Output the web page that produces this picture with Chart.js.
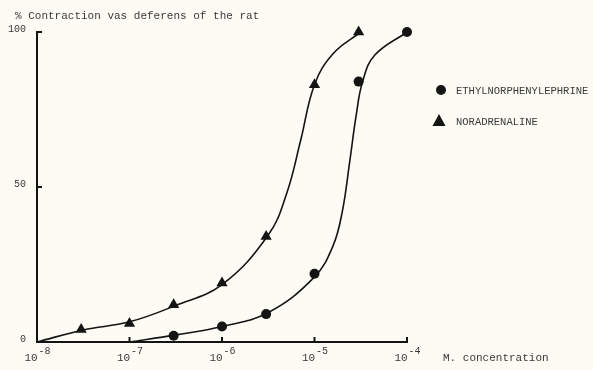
<!DOCTYPE html>
<html>
<head>
<meta charset="utf-8">
<script src="https://cdn.jsdelivr.net/npm/chart.js@4/dist/chart.umd.min.js"></script>
<style>
  html, body { margin: 0; padding: 0; background: #fcfbf4; }
  #wrap { width: 593px; height: 370px; position: relative; }
</style>
</head>
<body>
<div id="wrap"><canvas id="c" width="593" height="370"></canvas></div>
<script>
const noraConc   = [3e-8, 1e-7, 3e-7, 1e-6, 3e-6, 1e-5, 3e-5];
const noraValues = [4, 6, 12, 19, 34, 83, 100];

const ethylConc   = [3e-7, 1e-6, 3e-6, 1e-5, 3e-5, 1e-4];
const ethylValues = [2, 5, 9, 22, 84, 100];

// ---- fitted curves (log10 of concentration, % contraction) ----
const noraCurveLogX = [-8.0, -7.5, -7.0, -6.5, -6.0, -5.5, -5.3, -5.15, -5.0, -4.8, -4.5];
const noraCurveY    = [0, 3.9, 6.5, 11.8, 18.5, 34.5, 48, 65, 83, 93, 100];

const ethylCurveLogX = [-7.0, -6.5, -6.0, -5.5, -5.0, -4.8, -4.7, -4.62, -4.55, -4.48, -4.35, -4.0];
const ethylCurveY    = [0, 2.3, 5, 9.5, 21, 31, 42, 58, 73, 84, 92.5, 100];

const xTicks = [1e-8, 1e-7, 1e-6, 1e-5, 1e-4];
const xTickBase = '10';
const xTickExps = ['-8', '-7', '-6', '-5', '-4'];
const yTicks = [0, 50, 100];

const seriesNames = ['ETHYLNORPHENYLEPHRINE', 'NORADRENALINE'];
const yTitle = '% Contraction vas deferens of the rat';
const xTitle = 'M. concentration';

const INK = '#141414';
const TXT = '#3a3a3a';
const MONO = '"Liberation Mono", "DejaVu Sans Mono", monospace';

function pts(xs, ys) { return xs.map((x, i) => ({ x: x, y: ys[i] })); }
function logPts(es, ys) { return es.map((e, i) => ({ x: Math.pow(10, e), y: ys[i] })); }

const annotations = {
  id: 'annotations',
  afterDraw(chart) {
    const ctx = chart.ctx;
    const xs = chart.scales.x, ys = chart.scales.y;
    ctx.save();
    // inner tick marks on x axis
    ctx.strokeStyle = INK; ctx.lineWidth = 2;
    xTicks.forEach(v => {
      const px = xs.getPixelForValue(v);
      ctx.beginPath(); ctx.moveTo(px, ys.bottom); ctx.lineTo(px, ys.bottom - 5); ctx.stroke();
    });
    // inner tick marks on y axis
    yTicks.forEach(v => {
      if (v === 0) return;
      const py = ys.getPixelForValue(v);
      ctx.beginPath(); ctx.moveTo(xs.left, py); ctx.lineTo(xs.left + 5, py); ctx.stroke();
    });
    // x tick labels with superscript exponents
    ctx.fillStyle = TXT;
    ctx.textBaseline = 'middle';
    xTicks.forEach((v, i) => {
      const px = xs.getPixelForValue(v);
      ctx.font = '11px ' + MONO;
      const wb = ctx.measureText(xTickBase).width;
      ctx.font = '10px ' + MONO;
      const we = ctx.measureText(xTickExps[i]).width;
      const x0 = px - (wb + we) / 2;
      ctx.textAlign = 'left';
      ctx.font = '11px ' + MONO;
      ctx.fillText(xTickBase, x0, 358);
      ctx.font = '10px ' + MONO;
      ctx.fillText(xTickExps[i], x0 + wb + 1, 351);
    });
    // titles
    ctx.font = '11px ' + MONO;
    ctx.textAlign = 'left';
    ctx.fillText(yTitle, 15, 16);
    ctx.fillText(xTitle, 443, 358);
    // legend
    ctx.font = '10.5px ' + MONO;
    ctx.fillStyle = INK;
    ctx.beginPath(); ctx.arc(441, 90, 5, 0, Math.PI * 2); ctx.fill();
    ctx.beginPath(); ctx.moveTo(439, 114); ctx.lineTo(445.5, 126); ctx.lineTo(432.5, 126); ctx.closePath(); ctx.fill();
    ctx.fillStyle = TXT;
    ctx.fillText(seriesNames[0], 456, 91);
    ctx.fillText(seriesNames[1], 456, 122);
    ctx.restore();
  }
};

new Chart(document.getElementById('c'), {
  type: 'scatter',
  data: {
    datasets: [
      {
        type: 'line', label: seriesNames[0] + ' curve',
        data: logPts(ethylCurveLogX, ethylCurveY),
        borderColor: INK, borderWidth: 1.6, pointRadius: 0, fill: false,
        tension: 0.4
      },
      {
        type: 'line', label: seriesNames[1] + ' curve',
        data: logPts(noraCurveLogX, noraCurveY),
        borderColor: INK, borderWidth: 1.6, pointRadius: 0, fill: false,
        tension: 0.4
      },
      {
        label: seriesNames[0], data: pts(ethylConc, ethylValues),
        pointStyle: 'circle', pointRadius: 5, backgroundColor: INK, borderColor: INK, borderWidth: 0
      },
      {
        label: seriesNames[1], data: pts(noraConc, noraValues),
        pointStyle: 'triangle', pointRadius: 6.5, backgroundColor: INK, borderColor: INK, borderWidth: 0
      }
    ]
  },
  options: {
    responsive: false,
    animation: false,
    clip: false,
    layout: { padding: { left: 0, right: 186, top: 32, bottom: 0 } },
    plugins: { legend: { display: false }, tooltip: { enabled: false } },
    scales: {
      x: {
        type: 'logarithmic', min: 1e-8, max: 1e-4,
        afterBuildTicks: s => { s.ticks = xTicks.map(v => ({ value: v })); },
        afterFit: s => { s.height = 28; },
        grid: { display: false, drawTicks: false },
        border: { display: true, color: INK, width: 2 },
        ticks: { display: false }
      },
      y: {
        min: 0, max: 100,
        afterBuildTicks: s => { s.ticks = yTicks.map(v => ({ value: v })); },
        afterFit: s => { s.width = 37; },
        grid: { display: false, drawTicks: false },
        border: { display: true, color: INK, width: 2 },
        ticks: {
          color: TXT, font: { family: MONO, size: 10 }, padding: 11,
          labelOffset: -3
        }
      }
    }
  },
  plugins: [annotations]
});
</script>
</body>
</html>
